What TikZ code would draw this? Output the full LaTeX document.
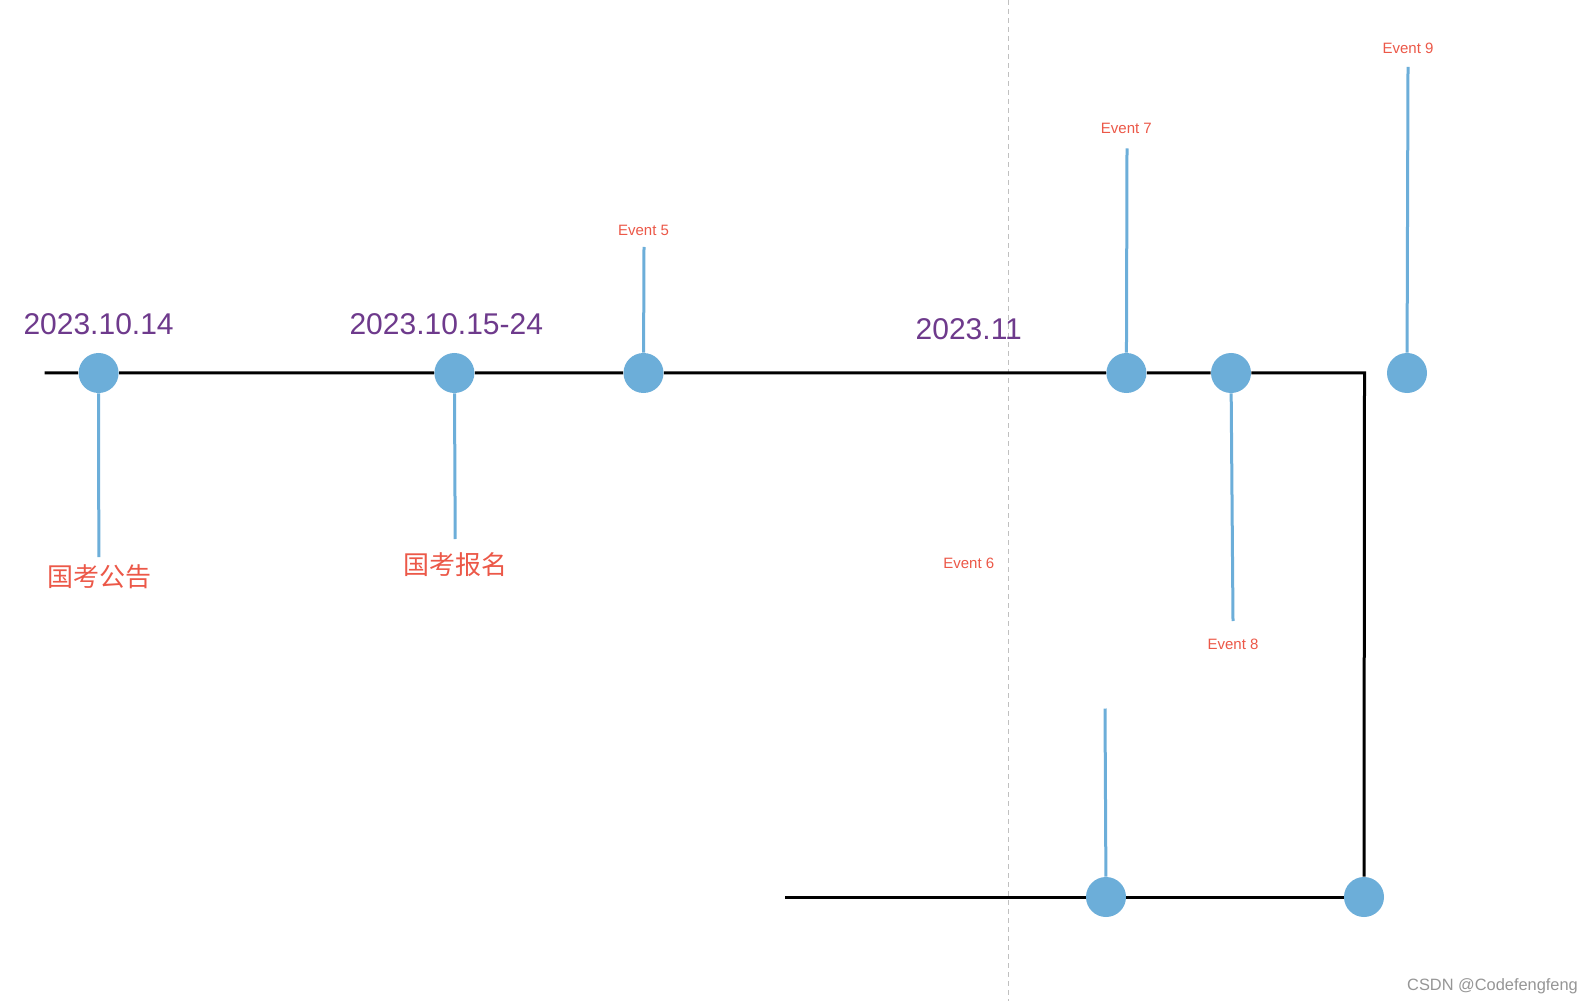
\documentclass[tikz,border=0pt]{standalone}
\usepackage{fontspec}
\setmainfont{Liberation Sans}
\newfontfamily\cjk{Noto Sans CJK SC}
\definecolor{dotblue}{RGB}{108,174,217}
\definecolor{evred}{RGB}{236,88,72}
\definecolor{datepurple}{RGB}{110,58,140}
\definecolor{guidegray}{RGB}{192,192,192}
\definecolor{markgray}{RGB}{150,150,150}
\begin{document}
\begin{tikzpicture}[x=0.5pt,y=-0.5pt,
        dot/.style={circle,fill=dotblue,inner sep=0pt,minimum size=20pt},
        axis/.style={line width=1.5pt,black},
        stem/.style={line width=1.5pt,dotblue},
        datelabel/.style={text=datepurple,inner sep=0pt,font=\fontsize{15}{18}\selectfont},
        evlabel/.style={text=evred,inner sep=0pt,font=\fontsize{7.5}{9}\selectfont},
        cnlabel/.style={text=evred,inner sep=0pt,font=\cjk\fontsize{13}{16}\selectfont}]
    \fill[white] (0,0) rectangle (1594,1005);
    \useasboundingbox (0,0) rectangle (1594,1005);
    % guide line
    \draw[guidegray,line width=0.6pt,dash pattern=on 2.5pt off 2pt] (1008.5,0) -- (1008.5,1001);
    % dots
    \node[dot] (n1) at (98.6,373) {};
    \node[dot] (n2) at (454.4,373) {};
    \node[dot] (n3) at (643.5,373) {};
    \node[dot] (n4) at (1126.4,373) {};
    \node[dot] (n5) at (1231,373) {};
    \node[dot] (n6) at (1407,373) {};
    \node[dot] (n7) at (1106,897) {};
    \node[dot] (n8) at (1364,897) {};
    \coordinate (start) at (44.7,373);
    \coordinate (corner) at (1364.5,373);
    \coordinate (low) at (785,897);
    % time line
    \draw[axis] (start) -- (n1) -- (n2) -- (n3) -- (n4) -- (n5) -- (corner) -- (n8);
    \draw[axis] (low) -- (n7) -- (n8);
    % stems
    \coordinate (s1) at (98.8,557);
    \coordinate (s2) at (455.2,539);
    \coordinate (s3) at (644,247);
    \coordinate (s4) at (1127,148.5);
    \coordinate (s5) at (1233,621);
    \coordinate (s6) at (1408,67);
    \coordinate (s7) at (1105,708.5);
    \draw[stem] (n1) -- (s1);
    \draw[stem] (n2) -- (s2);
    \draw[stem] (n3) -- (s3);
    \draw[stem] (n4) -- (s4);
    \draw[stem] (n5) -- (s5);
    \draw[stem] (n6) -- (s6);
    \draw[stem] (n7) -- (s7);
    % dates
    \node[datelabel] (t1) at (98.6,324.3) {2023.10.14};
    \node[datelabel] (t2) at (446.3,324.3) {2023.10.15-24};
    \node[datelabel] (t3) at (968.8,329.4) {2023.11};
    % events
    \node[cnlabel] (e1) at (99.5,576.5) {国考公告};
    \node[cnlabel] (e2) at (455.5,564.5) {国考报名};
    \node[evlabel] (e5) at (643.5,230) {Event 5};
    \node[evlabel] (e6) at (968.8,563.5) {Event 6};
    \node[evlabel] (e7) at (1126.4,128.5) {Event 7};
    \node[evlabel] (e8) at (1233,644.5) {Event 8};
    \node[evlabel] (e9) at (1408,48) {Event 9};
    \node[text=markgray,inner sep=0pt,font=\fontsize{8.2}{10}\selectfont] (wm) at (1492.5,986) {CSDN @Codefengfeng};
\end{tikzpicture}
\end{document}
